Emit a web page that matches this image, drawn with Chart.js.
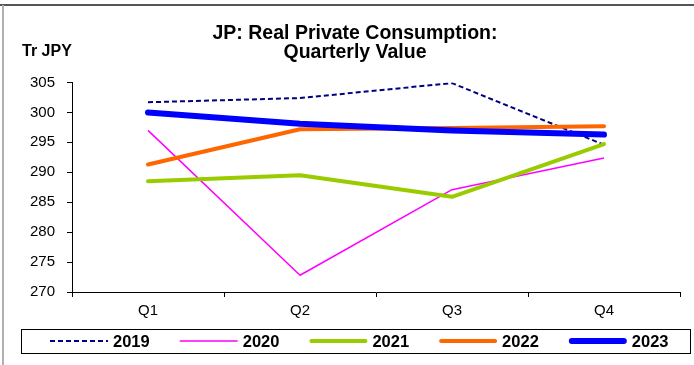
<!DOCTYPE html>
<html>
<head>
<meta charset="utf-8">
<script src="https://cdn.jsdelivr.net/npm/chart.js@4/dist/chart.umd.min.js"></script>
<style>
  body { margin: 0; background: #fff; }
  #wrap { width: 694px; height: 365px; }
</style>
</head>
<body>
<div id="wrap"><canvas id="chart" width="694" height="365"></canvas></div>
<script>
// trimestres y series anuales (billones de yenes)
const quarters = ["Q1", "Q2", "Q3", "Q4"];
const years = ["2019", "2020", "2021", "2022", "2023"];
const v2019 = [301.7, 302.4, 304.9, 294.6];
const v2020 = [297.0, 272.8, 287.1, 292.4];
const v2021 = [288.5, 289.5, 285.9, 294.7];
const v2022 = [291.3, 297.2, 297.4, 297.7];
const v2023 = [300.0, 298.1, 297.0, 296.3];
const yTicks = [270, 275, 280, 285, 290, 295, 300, 305];

const FONT = "Arial, 'Liberation Sans', sans-serif";

// estilo de cada serie
const estilos = [
  { color: "#000080", width: 2, dash: [5, 3], cap: "butt" },
  { color: "#FF00FF", width: 1.5, dash: [], cap: "butt" },
  { color: "#99CC00", width: 4, dash: [], cap: "round" },
  { color: "#FF6600", width: 4, dash: [], cap: "round" },
  { color: "#0000FF", width: 6, dash: [], cap: "round" }
];
const valores = [v2019, v2020, v2021, v2022, v2023];

// marco, unidad y leyenda en una sola fila dentro de su caja
const decoracion = {
  id: "decoracion",
  beforeDraw(chart) {
    const ctx = chart.ctx;
    ctx.save();
    ctx.lineWidth = 2;
    ctx.strokeStyle = "#555";
    ctx.beginPath();
    ctx.moveTo(0, 5); ctx.lineTo(694, 5);
    ctx.stroke();
    ctx.strokeStyle = "#b0b0b0";
    ctx.beginPath();
    ctx.moveTo(3, 5); ctx.lineTo(3, 365);
    ctx.stroke();
    ctx.restore();
  },
  afterDraw(chart) {
    const ctx = chart.ctx;
    ctx.save();
    ctx.fillStyle = "#000";
    ctx.font = "bold 16px " + FONT;
    ctx.textAlign = "left";
    ctx.textBaseline = "middle";
    ctx.fillText("Tr JPY", 22, 52);

    // caja de la leyenda
    ctx.strokeStyle = "#000";
    ctx.lineWidth = 1;
    ctx.setLineDash([]);
    ctx.strokeRect(21.5, 329.5, 669, 24);

    // elementos de la leyenda, en el orden de los datasets
    const items = Chart.defaults.plugins.legend.labels.generateLabels(chart)
      .sort((a, b) => a.datasetIndex - b.datasetIndex);
    const cy = 341;
    let x = 50;
    items.forEach((it) => {
      const est = estilos[it.datasetIndex];
      const r = est.cap === "round" ? est.width / 2 : 0;
      ctx.save();
      ctx.strokeStyle = it.strokeStyle;
      ctx.lineWidth = it.lineWidth;
      ctx.lineCap = est.cap;
      ctx.setLineDash(it.lineDash || []);
      ctx.beginPath();
      ctx.moveTo(x + r, cy);
      ctx.lineTo(x + 58 - r, cy);
      ctx.stroke();
      ctx.restore();
      ctx.fillStyle = "#000";
      ctx.font = "bold 16.5px " + FONT;
      ctx.fillText(it.text, x + 63, cy + 1);
      x += 63 + ctx.measureText(it.text).width + 30;
    });
    ctx.restore();
  }
};

const ctx = document.getElementById("chart").getContext("2d");
new Chart(ctx, {
  type: "line",
  data: {
    labels: quarters,
    datasets: years.map((y, i) => ({
      label: y,
      data: valores[i],
      borderColor: estilos[i].color,
      backgroundColor: estilos[i].color,
      borderWidth: estilos[i].width,
      borderDash: estilos[i].dash,
      borderCapStyle: estilos[i].cap,
      borderJoinStyle: "round",
      pointRadius: 0,
      tension: 0,
      order: years.length - i // las series más recientes encima
    }))
  },
  options: {
    responsive: false,
    animation: false,
    layout: { padding: { left: 30, right: 14, top: 0, bottom: 40 } },
    plugins: {
      title: {
        display: true,
        text: ["JP: Real Private Consumption:", "Quarterly Value"],
        color: "#000",
        font: { family: FONT, size: 19.5, weight: "bold", lineHeight: 1.0 },
        padding: { top: 23.5, bottom: 20 }
      },
      legend: { display: false },
      tooltip: { enabled: false }
    },
    scales: {
      x: {
        offset: true,
        grid: {
          offset: true,
          drawOnChartArea: false,
          tickLength: 5,
          color: "#000"
        },
        border: { color: "#000", width: 1 },
        ticks: {
          color: "#000",
          padding: 5,
          font: { family: FONT, size: 15 }
        }
      },
      y: {
        min: yTicks[0],
        max: yTicks[yTicks.length - 1],
        afterFit(scale) { scale.width = 42; },
        afterBuildTicks(scale) { scale.ticks = yTicks.map(v => ({ value: v })); },
        grid: {
          drawOnChartArea: false,
          tickLength: 5,
          color: "#000"
        },
        border: { color: "#000", width: 1 },
        ticks: {
          color: "#000",
          padding: 12,
          font: { family: FONT, size: 15 }
        }
      }
    }
  },
  plugins: [decoracion]
});
</script>
</body>
</html>
